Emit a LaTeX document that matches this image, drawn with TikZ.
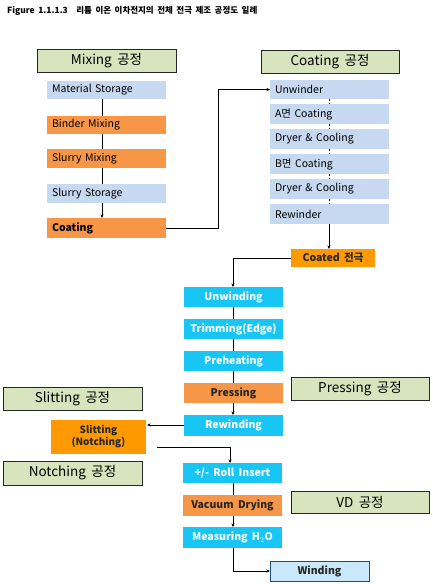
\documentclass[tikz,border=0pt]{standalone}
\usepackage{fontspec}
\setmainfont[WordSpace=1.8]{Noto Sans CJK KR}
\usetikzlibrary{arrows.meta}
\definecolor{hdrgreen}{HTML}{D7E4BD}
\definecolor{lblue}{HTML}{C6D9F1}
\definecolor{orgA}{HTML}{F79646}
\definecolor{orgB}{HTML}{FF9900}
\definecolor{cyanbox}{HTML}{17C6F5}
\definecolor{windfill}{HTML}{C9E8F9}
\definecolor{winddraw}{HTML}{1F4E79}
\tikzset{
  base/.style={anchor=north west, inner sep=0pt, outer sep=0pt},
  hdr/.style={base, fill=hdrgreen, draw=black!85, line width=0.8pt, font=\fontsize{13.5}{15}\selectfont},
  lbox/.style={base, inner xsep=5pt, text width=109pt, align=left, font=\fontsize{10.5}{12}\selectfont},
  cbox/.style={base, fill=cyanbox, text=white, font=\bfseries\fontsize{10.5}{12}\selectfont, align=center},
  obox/.style={base, text=black!85, font=\bfseries\fontsize{10.5}{12}\selectfont, align=center},
  conn/.style={draw=black, line width=0.6pt},
  arr/.style={conn, -{Stealth[length=3.5pt,width=3pt]}},
}
\newcommand\bx[7]{\node[#6, minimum width={#4-#2}, minimum height={#5-#3}] (#1) at (#2,#3) {#7};}
\begin{document}
\begin{tikzpicture}[x=1pt,y=-1pt]
\useasboundingbox (0,0) rectangle (433,584);
\fill[white] (0,0) rectangle (433,584);
% title
\node[anchor=west, inner sep=0pt, font=\bfseries\fontsize{8.5}{10}\selectfont] (title) at (7,11) {Figure 1.1.1.3\quad 리튬 이온 이차전지의 전체 전극 제조 공정도 일례};
% Mixing
\bx{hmix}{37}{49}{176}{72}{hdr}{Mixing 공정}
\bx{mat}{47}{81}{166}{99}{lbox, fill=lblue}{Material Storage}
\bx{bind}{47}{116}{166}{134}{lbox, fill=orgA}{Binder Mixing}
\bx{slm}{47}{149}{166}{168}{lbox, fill=orgA}{Slurry Mixing}
\bx{sls}{47}{184}{166}{203}{lbox, fill=lblue}{Slurry Storage}
\bx{coat}{47}{218}{166}{238}{lbox, fill=orgA, font=\bfseries\fontsize{10.5}{12}\selectfont}{Coating}
% Coating
\bx{hcoat}{261}{50}{399}{73}{hdr}{Coating 공정}
\bx{unw}{270}{80}{389}{99}{lbox, fill=lblue}{Unwinder}
\bx{acoat}{270}{104}{389}{124}{lbox, fill=lblue}{A면 Coating}
\bx{dry1}{270}{129}{389}{149}{lbox, fill=lblue}{Dryer \& Cooling}
\bx{bcoat}{270}{154}{389}{174}{lbox, fill=lblue}{B면 Coating}
\bx{dry2}{270}{179}{389}{199}{lbox, fill=lblue}{Dryer \& Cooling}
\bx{rew}{270}{204}{389}{224}{lbox, fill=lblue}{Rewinder}
\bx{coated}{291}{249}{375}{267}{obox, fill=orgB}{Coated 전극}
% Pressing line
\bx{unwd}{184}{287}{283}{307}{cbox}{Unwinding}
\bx{trim}{184}{319}{283}{339}{cbox}{Trimming(Edge)}
\bx{preh}{184}{351}{283}{371}{cbox}{Preheating}
\bx{press}{184}{383}{283}{403}{obox, fill=orgA}{Pressing}
\bx{rewd}{184}{415}{283}{436}{cbox}{Rewinding}
\bx{hpress}{291}{377}{429}{400}{hdr}{Pressing 공정}
\bx{hslit}{3}{387}{142}{410}{hdr}{Slitting 공정}
\bx{slit}{51}{420}{146}{454}{obox, fill=orgB, font=\bfseries\fontsize{10}{12}\selectfont}{Slitting\\(Notching)}
\bx{hnotch}{3}{461}{142}{485}{hdr}{Notching 공정}
\bx{roll}{183}{463}{282}{483}{cbox}{+/- Roll Insert}
\bx{vac}{183}{495}{282}{516}{obox, fill=orgA}{Vacuum Drying}
\bx{hvd}{291}{491}{429}{513}{hdr}{VD 공정}
\bx{meas}{183}{527}{282}{548}{cbox}{Measuring H$_2$O}
\bx{wind}{270}{561}{369}{581}{obox, fill=windfill, draw=winddraw, line width=0.8pt, text=black!85}{Winding}
% connectors
\coordinate (mx) at (102,0);
\draw[conn] (mat.south -| mx) -- (bind.north -| mx);
\draw[conn] (bind.south -| mx) -- (slm.north -| mx);
\draw[conn] (slm.south -| mx) -- (sls.north -| mx);
\draw[arr] (sls.south -| mx) -- (coat.north -| mx);
\coordinate (cx) at (218,0);
\draw[arr] (coat.east) -- (coat.east -| cx) |- (unw.west);
\coordinate (rx) at (329,0);
\draw[conn, dash pattern=on 2pt off 2pt] (unw.south -| rx) -- (acoat.north -| rx);
\draw[conn, dash pattern=on 2pt off 2pt] (acoat.south -| rx) -- (dry1.north -| rx);
\draw[conn, dash pattern=on 2pt off 2pt] (dry1.south -| rx) -- (bcoat.north -| rx);
\draw[conn, dash pattern=on 2pt off 2pt] (bcoat.south -| rx) -- (dry2.north -| rx);
\draw[conn, dash pattern=on 2pt off 2pt] (dry2.south -| rx) -- (rew.north -| rx);
\draw[arr] (rew.south -| rx) -- (coated.north -| rx);
\coordinate (ux) at (233,0);
\draw[arr] (coated.west) -| (unwd.north -| ux);
\draw[conn] (unwd.south -| ux) -- (trim.north -| ux);
\draw[conn] (trim.south -| ux) -- (preh.north -| ux);
\draw[conn] (preh.south -| ux) -- (press.north -| ux);
\draw[arr] (press.south -| ux) -- (rewd.north -| ux);
\coordinate (sy) at (0,425);
\draw[arr] (rewd.west |- sy) -- ([xshift=1pt]slit.east |- sy);
\coordinate (s1) at (157,447);
\coordinate (s2) at (230,447);
\draw[arr] (s1) -- (s2) -- (roll.north -| s2);
\draw[conn] (roll.south -| ux) -- (vac.north -| ux);
\draw[arr] (vac.south -| ux) -- (meas.north -| ux);
\coordinate (wy) at (233,571);
\draw[arr] (meas.south -| ux) -- (wy) -- (wind.west |- wy);
\end{tikzpicture}
\end{document}
